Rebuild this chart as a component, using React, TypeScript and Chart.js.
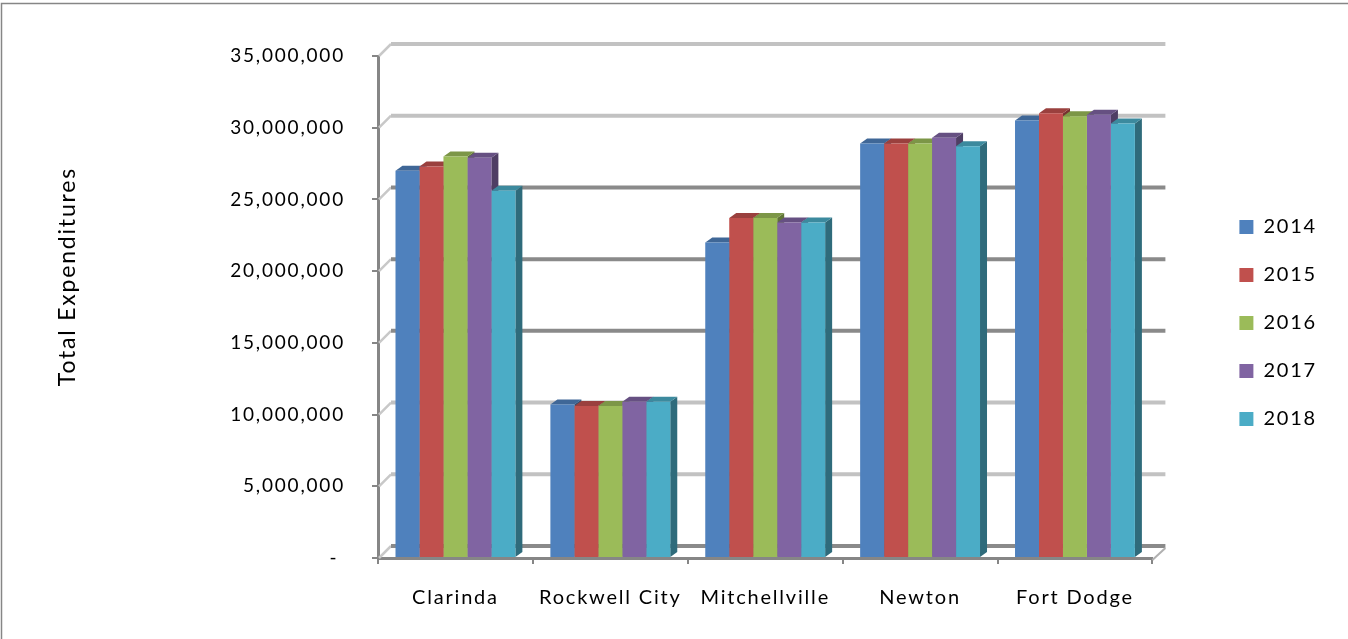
import React, { useEffect, useRef } from 'react';
import { Chart, registerables } from 'chart.js';

Chart.register(...registerables);

const categories = ['Clarinda', 'Rockwell City', 'Mitchellville', 'Newton', 'Fort Dodge'];
const seriesLabels = ['2014', '2015', '2016', '2017', '2018'];
const values2014 = [27000000, 10700000, 22000000, 28900000, 30500000];
const values2015 = [27300000, 10600000, 23700000, 28900000, 31000000];
const values2016 = [28000000, 10600000, 23700000, 28900000, 30800000];
const values2017 = [27900000, 10900000, 23400000, 29300000, 30900000];
const values2018 = [25600000, 10900000, 23400000, 28700000, 30300000];
const yTickValues = [0, 5000000, 10000000, 15000000, 20000000, 25000000, 30000000, 35000000];
const yTitle = 'Total Expenditures';

const seriesColors = ['#4F81BD', '#C0504D', '#9BBB59', '#8064A2', '#4BACC6'];
const gridTones = ['#8a8a8a', '#c2c2c2', '#c2c2c2', '#8a8a8a', '#8a8a8a', '#8a8a8a', '#c2c2c2', '#c2c2c2'];

const FONT = { family: 'Lato', size: 19 };
const LABEL_FONT = { family: 'Lato', size: 20 };
const TITLE_FONT = { family: 'Lato', size: 23 };
const SPACING = '1.8px';
const TITLE_LEAD = '\u00a0'.repeat(8);
const WALL_DX = 13;
const WALL_DY = 12;
const BAR_DX = 7;
const BAR_DY = 5;

function shade(hex: string, f: number): string {
  const n = parseInt(hex.slice(1), 16);
  const r = Math.round(((n >> 16) & 255) * f);
  const g = Math.round(((n >> 8) & 255) * f);
  const b = Math.round((n & 255) * f);
  return `rgb(${r},${g},${b})`;
}

function poly(ctx: CanvasRenderingContext2D, pts: number[][], fill: string) {
  ctx.beginPath();
  ctx.moveTo(pts[0][0], pts[0][1]);
  for (let i = 1; i < pts.length; i++) ctx.lineTo(pts[i][0], pts[i][1]);
  ctx.closePath();
  ctx.fillStyle = fill;
  ctx.fill();
}

const threeD = {
  id: 'threeD',
  beforeLayout(chart: any) {
    (chart.ctx as any).letterSpacing = SPACING;
  },
  beforeDraw(chart: any) {
    const ctx = chart.ctx as CanvasRenderingContext2D;
    (ctx as any).letterSpacing = SPACING;
    ctx.save();
    ctx.fillStyle = '#ffffff';
    ctx.fillRect(0, 0, chart.width, chart.height);
    ctx.strokeStyle = '#868686';
    ctx.lineWidth = 1.5;
    ctx.beginPath();
    ctx.moveTo(1.5, chart.height + 5);
    ctx.lineTo(1.5, 3.5);
    ctx.lineTo(chart.width + 5, 3.5);
    ctx.stroke();
    ctx.restore();
  },
  beforeDatasetsDraw(chart: any) {
    const ctx = chart.ctx as CanvasRenderingContext2D;
    const { left, right, bottom } = chart.chartArea;
    const ys = chart.scales.y;
    ctx.save();
    yTickValues.forEach((v, i) => {
      const yf = ys.getPixelForValue(v);
      const yb = yf - WALL_DY;
      ctx.strokeStyle = '#c8c8c8';
      ctx.lineWidth = 2.5;
      ctx.beginPath();
      ctx.moveTo(left + 1, yf);
      ctx.lineTo(left + WALL_DX, yb);
      ctx.stroke();
      ctx.strokeStyle = gridTones[i];
      ctx.lineWidth = 4;
      ctx.beginPath();
      ctx.moveTo(left + WALL_DX, yb);
      ctx.lineTo(right + WALL_DX, yb);
      ctx.stroke();
    });
    ctx.strokeStyle = '#b0b0b0';
    ctx.lineWidth = 2;
    ctx.beginPath();
    ctx.moveTo(right, bottom + 2);
    ctx.lineTo(right + WALL_DX, bottom - WALL_DY + 2);
    ctx.stroke();
    chart.data.datasets.forEach((ds: any, i: number) => {
      const meta = chart.getDatasetMeta(i);
      const col = seriesColors[i];
      meta.data.forEach((el: any) => {
        const { x, y, base, width } = el.getProps(['x', 'y', 'base', 'width'], true);
        const l = x - width / 2;
        const r = x + width / 2;
        poly(ctx, [[r, y], [r + BAR_DX, y - BAR_DY], [r + BAR_DX, base - BAR_DY], [r, base]], shade(col, 0.62));
        poly(ctx, [[l, y], [r, y], [r + BAR_DX, y - BAR_DY], [l + BAR_DX, y - BAR_DY]], shade(col, 0.8));
      });
    });
    ctx.restore();
  },
};

export default function App() {
  const ref = useRef<HTMLCanvasElement | null>(null);
  useEffect(() => {
    document.body.style.margin = '0';
    const canvas = ref.current;
    if (!canvas) return;
    const seriesValues = [values2014, values2015, values2016, values2017, values2018];
    const chart = new Chart(canvas, {
      type: 'bar',
      data: {
        labels: categories,
        datasets: seriesLabels.map((lab, i) => ({
          label: lab,
          data: seriesValues[i],
          backgroundColor: seriesColors[i],
          borderWidth: 0,
          categoryPercentage: 0.774,
          barPercentage: 1,
        })),
      },
      options: {
        animation: false,
        responsive: false,
        maintainAspectRatio: false,
        devicePixelRatio: 1,
        layout: { padding: { top: 56, left: 0, right: 21, bottom: 0 } },
        plugins: {
          legend: {
            position: 'right',
            fullSize: false,
            maxWidth: 131,
            title: { display: true, text: '', font: { family: 'Lato', size: 10 }, padding: 10 },
            labels: {
              font: LABEL_FONT,
              color: '#000000',
              boxWidth: 14,
              boxHeight: 14,
              padding: 28,
            },
          },
          tooltip: { enabled: false },
        },
        scales: {
          x: {
            grid: { drawOnChartArea: false, drawTicks: true, tickLength: 6, color: '#868686', lineWidth: 2, offset: true },
            border: { display: true, color: '#868686', width: 3 },
            ticks: { font: LABEL_FONT, color: '#000000', padding: 22, maxRotation: 0, autoSkip: false },
            afterFit: (s: any) => { s.height = 81; },
          },
          y: {
            min: 0,
            max: 35000000,
            afterBuildTicks: (s: any) => { s.ticks = yTickValues.map((v) => ({ value: v })); },
            grid: { drawOnChartArea: false, drawTicks: true, tickLength: 6, color: '#868686', lineWidth: 2 },
            border: { display: true, color: '#868686', width: 3 },
            ticks: {
              font: FONT,
              color: '#000000',
              padding: 27,
              callback: (v: any) => (Number(v) === 0 ? '-\u00a0' : Number(v).toLocaleString('en-US')),
            },
            title: { display: true, text: TITLE_LEAD + yTitle, font: TITLE_FONT, color: '#000000', padding: { top: 54, bottom: 0 } },
            afterFit: (s: any) => { s.width = 378; },
          },
          yRight: {
            type: 'linear',
            position: 'right',
            display: true,
            grid: { display: false },
            border: { display: false },
            ticks: { display: false },
            afterFit: (s: any) => { s.width = 59; },
          },
        },
      },
      plugins: [threeD],
    });
    return () => chart.destroy();
  }, []);
  return (
    <div style={{ width: 1348, height: 639 }}>
      <canvas ref={ref} width={1348} height={639} style={{ display: 'block' }} />
    </div>
  );
}
